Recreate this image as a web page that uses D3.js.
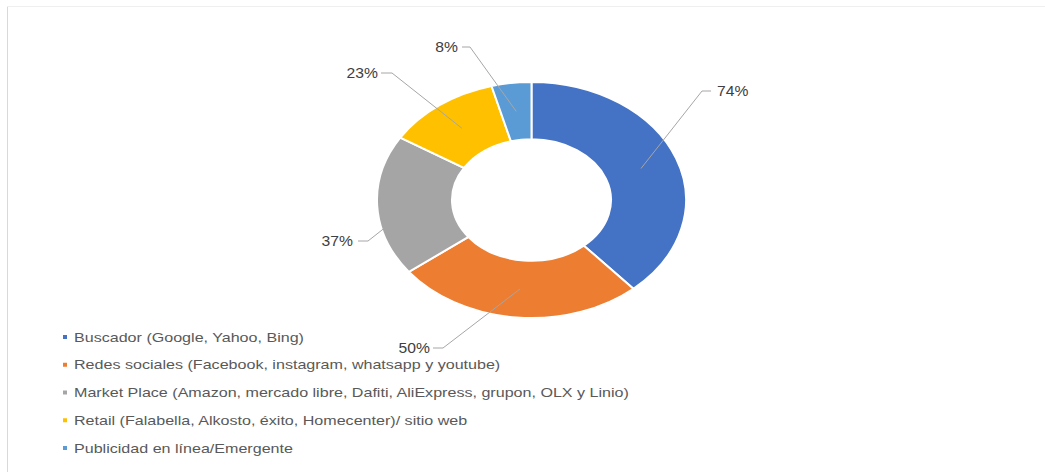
<!DOCTYPE html>
<html>
<head>
<meta charset="utf-8">
<script src="https://cdn.jsdelivr.net/npm/d3@7"></script>
<style>
  html, body { margin: 0; padding: 0; background: #fff; }
  svg { display: block; }
</style>
</head>
<body>
<svg id="chart" width="1045" height="472"></svg>
<script>
// Channels used, share of respondents (%)
const categories = [
  "Buscador (Google, Yahoo, Bing)",
  "Redes sociales (Facebook, instagram, whatsapp y youtube)",
  "Market Place (Amazon, mercado libre, Dafiti, AliExpress, grupon, OLX y Linio)",
  "Retail (Falabella, Alkosto, éxito, Homecenter)/ sitio web",
  "Publicidad en línea/Emergente"
];
const values = [74, 50, 37, 23, 8];
const valueLabels = ["74%", "50%", "37%", "23%", "8%"];
const colors = ["#4472C4", "#ED7D31", "#A5A5A5", "#FFC000", "#5B9BD5"];

// Where each data label sits: leader elbow, leader end, text anchor point
const labelLayout = [
  { bend: [702, 91], end: [711, 91], text: [717, 91], anchor: "start" },
  { bend: [443, 348], end: [433, 348], text: [430, 348], anchor: "end" },
  { bend: [368, 241], end: [358, 241], text: [353, 241], anchor: "end" },
  { bend: [392, 73], end: [381, 73], text: [378, 73], anchor: "end" },
  { bend: [470, 47], end: [462, 47], text: [458, 47], anchor: "end" }
];

const svg = d3.select("#chart");

// Light frame
svg.append("line").attr("x1", 7.5).attr("y1", 6).attr("x2", 7.5).attr("y2", 472)
  .attr("stroke", "#d9d9d9").attr("stroke-width", 1);
svg.append("line").attr("x1", 7).attr("y1", 6.5).attr("x2", 1045).attr("y2", 6.5)
  .attr("stroke", "#efefef").attr("stroke-width", 1);

// Donut (drawn as a circle, squashed vertically)
const cx = 531.5, cy = 200, sy = 0.764;
const rOuter = 154.5, rInner = 79.5;

const pie = d3.pie().sort(null).value(d => d);
const arcs = pie(values);
const arc = d3.arc().innerRadius(rInner).outerRadius(rOuter);

const donut = svg.append("g")
  .attr("transform", `translate(${cx},${cy}) scale(1,${sy})`);

donut.selectAll("path")
  .data(arcs)
  .enter().append("path")
  .attr("d", arc)
  .attr("fill", (d, i) => colors[i])
  .attr("stroke", "#fff")
  .attr("stroke-width", 2)
  .attr("vector-effect", "non-scaling-stroke");

// Leader lines from each slice centroid to its label
const toScreen = p => [cx + p[0], cy + p[1] * sy];

svg.append("g").selectAll("polyline")
  .data(arcs)
  .enter().append("polyline")
  .attr("points", (d, i) => {
    const c = toScreen(arc.centroid(d));
    const L = labelLayout[i];
    return [c, L.bend, L.end].map(p => p.join(",")).join(" ");
  })
  .attr("fill", "none")
  .attr("stroke", "#a6a6a6")
  .attr("stroke-width", 1);

svg.append("g").selectAll("text")
  .data(arcs)
  .enter().append("text")
  .attr("transform", (d, i) => `translate(${labelLayout[i].text[0]},${labelLayout[i].text[1]}) scale(1.12,1)`)
  .attr("text-anchor", (d, i) => labelLayout[i].anchor)
  .attr("dy", "0.36em")
  .attr("font-family", "Liberation Sans, Arial, sans-serif")
  .attr("font-size", 14)
  .attr("fill", "#404040")
  .text((d, i) => valueLabels[i]);

// Legend
const legendY = d3.scalePoint().domain(categories).range([337, 448]);

const legend = svg.append("g");
const items = legend.selectAll("g")
  .data(categories)
  .enter().append("g")
  .attr("transform", d => `translate(63,${legendY(d)})`);

items.append("rect")
  .attr("x", 0).attr("y", -2)
  .attr("width", 4).attr("height", 4)
  .attr("fill", (d, i) => colors[i]);

items.append("text")
  .attr("transform", "translate(11,0) scale(1.2,1)")
  .attr("dy", "0.35em")
  .attr("font-family", "Liberation Sans, Arial, sans-serif")
  .attr("font-size", 13.4)
  .attr("fill", "#595959")
  .text(d => d);
</script>
</body>
</html>
